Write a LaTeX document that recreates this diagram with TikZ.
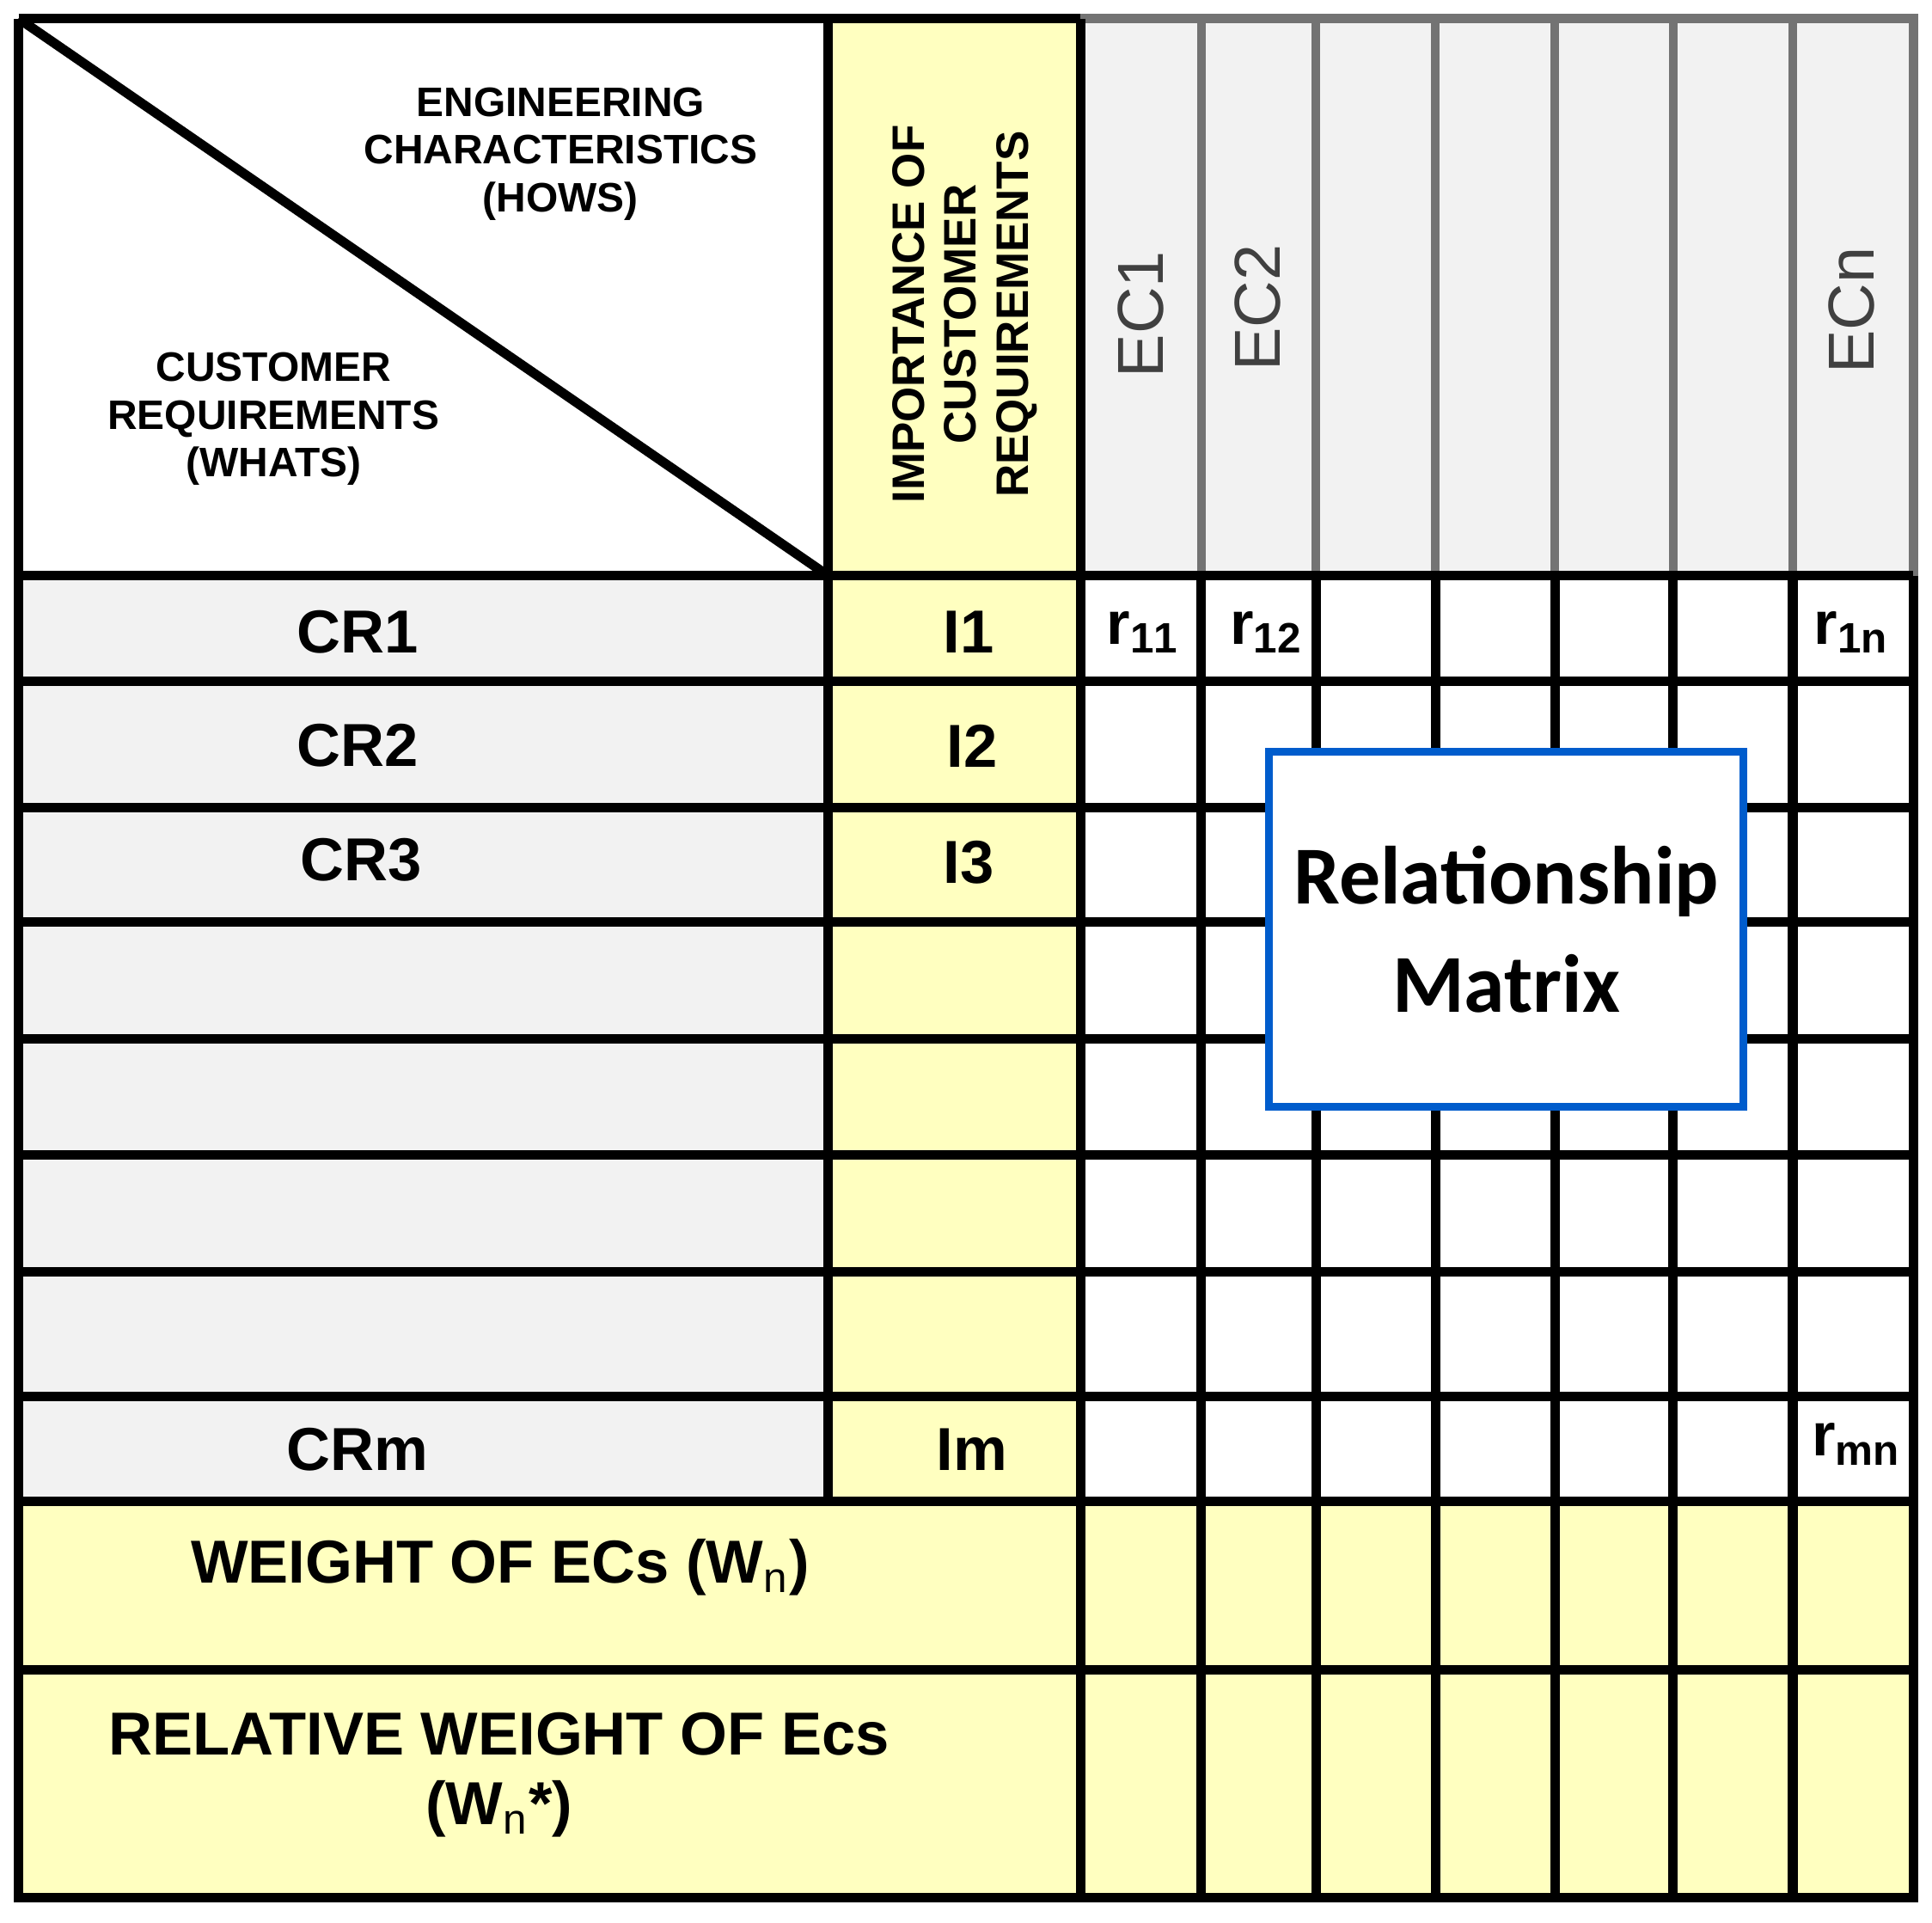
\documentclass[tikz,border=0pt]{standalone}
\usepackage{fontspec}
\setmainfont{Liberation Sans}
\newfontfamily\calib{Carlito}
\begin{document}
\begin{tikzpicture}[x=0.01cm,y=-0.01cm,
  grid/.style={line width=2.2pt,draw=black},
  lbl/.style={font=\fontsize{14}{16}\selectfont\bfseries},
  hdr/.style={font=\fontsize{9.5}{11}\selectfont\bfseries,align=center},
  ec/.style={font=\fontsize{15}{17}\selectfont,text=black!75,rotate=90}]
\definecolor{yel}{HTML}{FFFFC0}
\definecolor{lg}{HTML}{F2F2F2}
\useasboundingbox (0,0) rectangle (1568,1560);
% fills
\fill[yel] (672,15) rectangle (877,1218);
\fill[yel] (15,1218) rectangle (1553,1540);
\foreach \a/\b in {467/553,553/655,655/748,748/843,843/937,937/1032,1032/1133,1133/1218}
  \fill[lg] (15,\a) rectangle (672,\b);
\fill[lg] (877,15) rectangle (1553,467);
% EC header grid (gray)
\draw[line width=2pt,draw=black!55] (877,15) rectangle (1553,467);
\foreach \x in {975,1068,1165,1262,1358,1455}
  \draw[line width=2pt,draw=black!55] (\x,15) -- (\x,467);
% main grid
\draw[grid] (15,15) -- (877,15);
\draw[grid] (15,15) -- (15,1540) -- (1553,1540) -- (1553,467);
\draw[grid] (15,467) -- (1553,467);
\draw[grid] (672,15) -- (672,1218);
\draw[grid] (877,15) -- (877,1540);
\foreach \x in {975,1068,1165,1262,1358,1455}
  \draw[grid] (\x,467) -- (\x,1540);
\foreach \y in {553,655,748,843,937,1032,1133,1218,1355}
  \draw[grid] (15,\y) -- (1553,\y);
\draw[grid] (15,15) -- (672,467);
% header text
\node[hdr] (hows) at (455,125) {ENGINEERING\\CHARACTERISTICS\\(HOWS)};
\node[hdr] (whats) at (222,340) {CUSTOMER\\REQUIREMENTS\\(WHATS)};
\node[hdr,rotate=90,font=\fontsize{10.5}{12}\selectfont\bfseries] (imp) at (783,255) {IMPORTANCE OF\\CUSTOMER\\REQUIREMENTS};
\node[ec] (ec1) at (926,255) {EC1};
\node[ec] (ec2) at (1021,250) {EC2};
\node[ec] (ecn) at (1503,252) {ECn};
% rows
\node[lbl] (cr1) at (290,513) {CR1};
\node[lbl] (cr2) at (290,605) {CR2};
\node[lbl] (cr3) at (293,698) {CR3};
\node[lbl] (crm) at (290,1176) {CRm};
\node[lbl] (i1) at (786,513) {I1};
\node[lbl] (i2) at (789,605) {I2};
\node[lbl] (i3) at (786,700) {I3};
\node[lbl] (im) at (789,1176) {Im};
\node[lbl] (r11) at (928,513) {r$_{\mathbf{11}}$};
\node[lbl] (r12) at (1028,513) {r$_{\mathbf{12}}$};
\node[lbl] (r1n) at (1503,513) {r$_{\mathbf{1n}}$};
\node[lbl] (rmn) at (1507,1172) {r$_{\mathbf{mn}}$};
\node[lbl] (w) at (406,1272) {WEIGHT OF ECs (W$_\mathrm{n}$)};
\node[lbl,align=center] (rw) at (405,1440) {RELATIVE WEIGHT OF Ecs\\(W$_\mathrm{n}$*)};
% relationship box
\node[draw=blue!55!cyan!80!black,line width=1.8pt,fill=white,
  minimum width=385*0.01cm,minimum height=288*0.01cm,inner sep=0pt,
  font=\calib\fontsize{19}{25}\selectfont\bfseries,align=center]
  (rel) at (1222.5,754) {Relationship\\Matrix};
\end{tikzpicture}
\end{document}
